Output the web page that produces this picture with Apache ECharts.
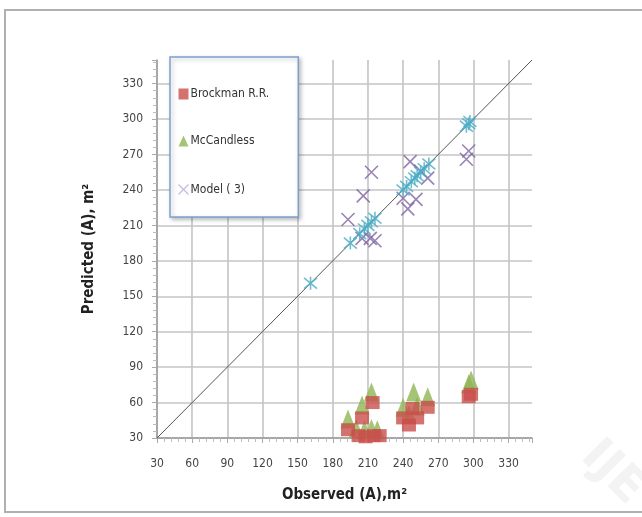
<!DOCTYPE html>
<html>
<head>
<meta charset="utf-8">
<script src="https://cdn.jsdelivr.net/npm/echarts@6/dist/echarts.min.js"></script>
<style>
  html, body { margin: 0; padding: 0; background: #fff; }
  #chart { width: 642px; height: 517px; }
</style>
</head>
<body>
<div id="chart"></div>
<script>
// axis ticks (both axes share the same scale)
const axisMin = 30;
const axisMax = 350;
const axisStep = 30;

// Brockman R.R. [observed, predicted]
const brockman = [
  [193, 37], [205, 47], [214, 60], [202, 32], [208, 31], [215, 32], [220, 32],
  [240, 47], [245, 41], [252, 47], [248, 55], [261, 56], [296, 65], [298, 67]
];
// McCandless
const mccandless = [
  [193, 46], [205, 58], [213, 69], [200, 38], [207, 37], [213, 38], [218, 37],
  [240, 56], [245, 50], [252, 57], [249, 69], [261, 65], [296, 76], [298, 79]
];
// Model ( 3)
const model3 = [
  [193, 215], [206, 235], [213, 255], [205, 199], [212, 199], [216, 197],
  [246, 264], [255, 256], [261, 250], [251, 232], [244, 224], [240, 233],
  [294, 266], [296, 273]
];
// observed = predicted points (no legend entry)
const observed = [
  [161, 161], [195, 195], [203, 203], [207, 207], [210, 210], [213, 213], [216, 216],
  [240, 240], [243, 243], [247, 247], [250, 250], [252, 252], [255, 255], [258, 258],
  [262, 262], [294, 294], [296, 296], [297, 298]
];
const diagonal = [[30, 30], [350, 350]];

const crossPath = 'path://M0,0L10,10M10,0L0,10';
const starPath = 'path://M0,0L10,10M10,0L0,10M5,-1L5,11';

const labelFont = '"Liberation Sans Narrow", "DejaVu Sans Condensed", "Liberation Sans", sans-serif';

function makeAxis(name, gap, rotate, labelMargin) {
  return {
    type: 'value',
    min: axisMin,
    max: axisMax,
    interval: axisStep,
    name: name,
    nameLocation: 'middle',
    nameGap: gap,
    nameRotate: rotate,
    nameTextStyle: { fontFamily: labelFont, fontWeight: 'bold', fontSize: 15, color: '#222' },
    axisLine: { lineStyle: { color: '#999', width: 1.5 } },
    axisTick: { show: true, length: 5, lineStyle: { color: '#aaa' } },
    minorTick: { show: true, splitNumber: 5, length: 4, lineStyle: { color: '#bbb' } },
    axisLabel: {
      margin: labelMargin,
      fontFamily: labelFont, fontSize: 12, color: '#444',
      formatter: v => (v > 330 ? '' : String(v))
    },
    splitLine: { show: true, showMaxLine: false, lineStyle: { color: '#c4c4c4', width: 1.6 } }
  };
}

const chart = echarts.init(document.getElementById('chart'));
chart.setOption({
  animation: false,
  backgroundColor: '#fff',
  graphic: [
    {
      type: 'rect',
      shape: { x: 5, y: 10, width: 660, height: 502 },
      style: { fill: 'none', stroke: '#b0b0b0', lineWidth: 2 },
      z: -1
    },
    {
      type: 'text',
      x: 605, y: 432,
      rotation: -Math.PI / 4,
      style: { text: 'IJE', fill: '#f3f3f3', font: 'bold 48px "DejaVu Sans", sans-serif' },
      z: -1
    }
  ],
  grid: { left: 157, top: 60, right: 110, bottom: 79 },
  xAxis: makeAxis('Observed (A),m²', 50, 0, 20),
  yAxis: makeAxis('Predicted (A), m²', 60, 90, 14),
  legend: {
    orient: 'vertical',
    left: 170,
    top: 57,
    data: [
      { name: 'Brockman R.R.', icon: 'rect' },
      { name: 'McCandless', icon: 'triangle' },
      { name: 'Model ( 3)', icon: crossPath, itemStyle: { color: 'none', borderColor: '#b7a6d4', borderWidth: 1.2 } }
    ],
    itemWidth: 10,
    itemHeight: 11,
    itemGap: 35,
    padding: [31, 29, 20, 6],
    textStyle: { fontFamily: labelFont, fontSize: 12, color: '#333', padding: [0, 0, 0, -3] },
    backgroundColor: '#fff',
    borderColor: '#7f9fcf',
    borderWidth: 1.5,
    shadowColor: 'rgba(0,0,0,0.25)',
    shadowBlur: 4,
    shadowOffsetX: 2,
    shadowOffsetY: 2
  },
  series: [
    {
      name: 'diagonal', type: 'line', data: diagonal, symbol: 'none',
      lineStyle: { color: '#555', width: 1 }, z: 1
    },
    {
      name: 'McCandless', type: 'scatter', data: mccandless,
      symbol: 'triangle', symbolSize: [15, 19],
      itemStyle: { color: '#8fb553' }, z: 3
    },
    {
      name: 'Brockman R.R.', type: 'scatter', data: brockman,
      symbol: 'rect', symbolSize: [14, 13],
      itemStyle: { color: '#c94f4c' }, z: 4
    },
    {
      name: 'Model ( 3)', type: 'scatter', data: model3,
      symbol: crossPath, symbolSize: 13,
      itemStyle: { color: 'none', borderColor: '#8064a2', borderWidth: 1.6 }, z: 5
    },
    {
      name: 'observed', type: 'scatter', data: observed,
      symbol: starPath, symbolSize: 13,
      itemStyle: { color: 'none', borderColor: '#4bacc6', borderWidth: 1.6 }, z: 6
    }
  ]
});
</script>
</body>
</html>
